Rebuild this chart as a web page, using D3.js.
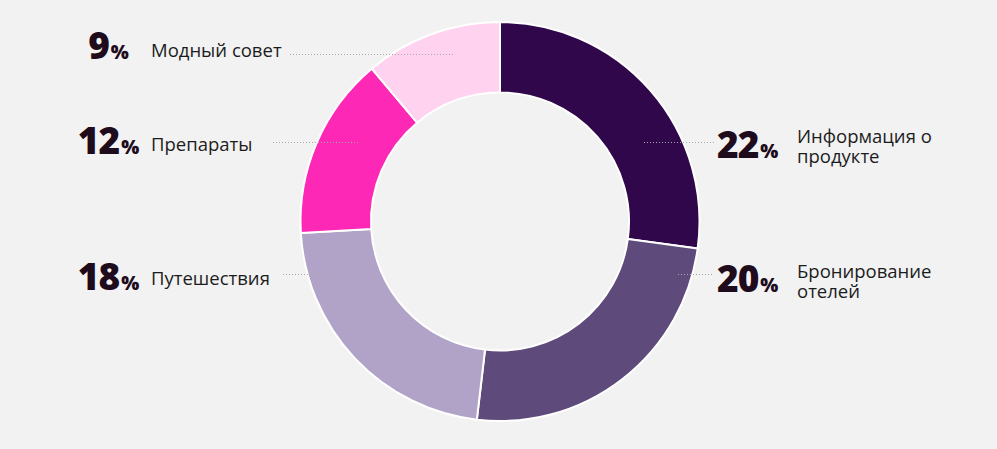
<!DOCTYPE html>
<html>
<head>
<meta charset="utf-8">
<script src="https://cdn.jsdelivr.net/npm/d3@7"></script>
<style>
html,body{margin:0;padding:0;background:#f2f2f2;}
svg{display:block;}
</style>
</head>
<body>
<svg id="chart" width="997" height="449"></svg>
<script>
// Data
const categories = ["Информация о продукте", "Бронирование отелей", "Путешествия", "Препараты", "Модный совет"];
const values = [22, 20, 18, 12, 9];
const colors = ["#30074a", "#5f4a7c", "#b1a3c8", "#fd28b6", "#ffd3ef"];
const labelLines = [["Информация о", "продукте"], ["Бронирование", "отелей"], ["Путешествия"], ["Препараты"], ["Модный совет"]];

// Layout (annotation placement)
const W = 997, H = 449;
const cx = 500, cy = 221.5, outerR = 199.5, innerR = 129;
const layout = [
  {side: "right", numX: 717, numY: 158, lineY: 142, lineX1: 644, lineX2: 715, textY: 143},
  {side: "right", numX: 717, numY: 292, lineY: 274, lineX1: 678, lineX2: 712, textY: 278},
  {side: "left",  numC: 108.5, numY: 290, lineY: 274, lineX1: 283, lineX2: 337, textY: 285},
  {side: "left",  numC: 108.5, numY: 154, lineY: 142, lineX1: 273, lineX2: 358, textY: 151},
  {side: "left",  numC: 108.5, numY: 59,  lineY: 54,  lineX1: 290, lineX2: 455, textY: 57}
];

const svg = d3.select("#chart");
svg.append("rect").attr("width", W).attr("height", H).attr("fill", "#f2f2f2");

const pie = d3.pie().sort(null).value(d => d.v);
const arc = d3.arc().innerRadius(innerR).outerRadius(outerR);
const data = categories.map((c, i) => ({c, v: values[i], i}));

const g = svg.append("g").attr("transform", `translate(${cx},${cy})`);
g.selectAll("path").data(pie(data)).join("path")
  .attr("d", arc)
  .attr("fill", d => colors[d.data.i])
  .attr("stroke", "#ffffff")
  .attr("stroke-width", 2)
  .attr("stroke-linejoin", "round");

// leader lines
svg.append("g").selectAll("line").data(layout).join("line")
  .attr("x1", d => d.lineX1).attr("x2", d => d.lineX2)
  .attr("y1", d => d.lineY + 0.5).attr("y2", d => d.lineY + 0.5)
  .attr("stroke", "#a8a8a8")
  .attr("stroke-width", 1)
  .attr("stroke-dasharray", "1,2");

const font = "'Open Sans', 'Noto Sans', sans-serif";
const lab = svg.append("g");
data.forEach((d, i) => {
  const L = layout[i];
  const t = lab.append("text")
    .attr("y", L.numY)
    .attr("font-family", font)
    .attr("font-weight", 800)
    .attr("fill", "#1e0b1b");
  t.append("tspan").attr("font-size", 37).attr("letter-spacing", -1).text(d.v);
  t.append("tspan").attr("font-size", 19).attr("dx", 2).text("%");
  if (L.side === "right") {
    t.attr("x", L.numX).attr("text-anchor", "start");
  } else {
    t.attr("x", L.numC).attr("text-anchor", "middle");
  }
  const tx = L.side === "right" ? 797 : 151;
  const lt = lab.append("text")
    .attr("font-family", font)
    .attr("font-size", 18.5)
    .attr("fill", "#1c1c1c");
  labelLines[i].forEach((s, k) => {
    lt.append("tspan").attr("x", tx).attr("y", L.textY + k * 20).text(s);
  });
});
</script>
</body>
</html>
